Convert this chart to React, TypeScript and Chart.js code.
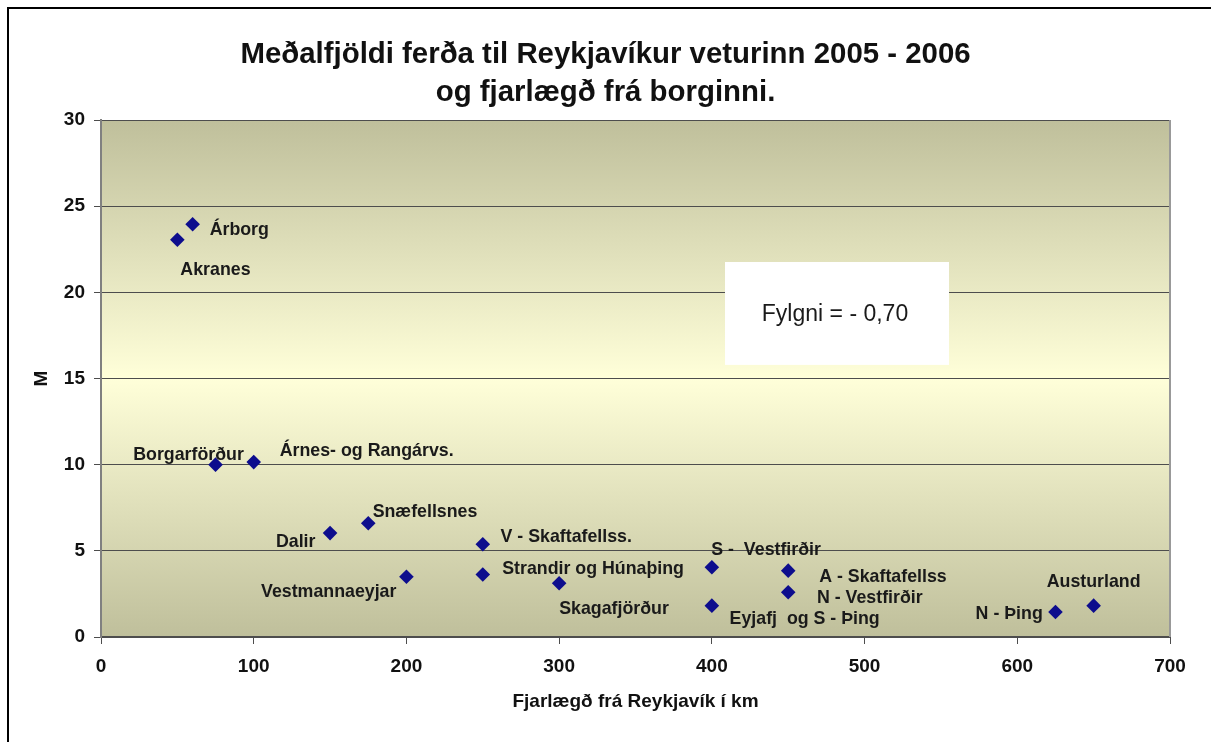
import React, { useEffect, useRef } from "react";
import { Chart, registerables } from "chart.js";

Chart.register(...registerables);

const FONT = "'Liberation Sans', Arial, Helvetica, sans-serif";

// ---- data ----
const titleLines = [
  "Meðalfjöldi ferða til Reykjavíkur veturinn 2005 - 2006",
  "og fjarlægð frá borginni.",
];
const xAxisTitle = "Fjarlægð frá Reykjavík í km";
const yAxisTitle = "M";
const noteText = "Fylgni = - 0,70";

const regions = [
  "Akranes",
  "Árborg",
  "Borgarförður",
  "Árnes- og Rangárvs.",
  "Dalir",
  "Snæfellsnes",
  "Vestmannaeyjar",
  "V - Skaftafellss.",
  "Strandir og Húnaþing",
  "Skagafjörður",
  "S -  Vestfirðir",
  "Eyjafj  og S - Þing",
  "A - Skaftafellss",
  "N - Vestfirðir",
  "N - Þing",
  "Austurland",
];
const distanceKm = [50, 60, 75, 100, 150, 175, 200, 250, 250, 300, 400, 400, 450, 450, 625, 650];
const meanTrips = [23.05, 23.95, 10.0, 10.15, 6.03, 6.6, 3.5, 5.38, 3.63, 3.12, 4.05, 1.82, 3.85, 2.6, 1.45, 1.82];

const xTickValues = [0, 100, 200, 300, 400, 500, 600, 700];
const yTickValues = [0, 5, 10, 15, 20, 25, 30];

// ---- label placement (style, pixel offsets from each marker) ----
const labelAlign: CanvasTextAlign[] = [
  "left", "left", "center", "left", "right", "left", "right", "left",
  "left", "left", "left", "left", "left", "left", "right", "center",
];
const labelDx = [3, 17, -27, 26, -14.6, 4.4, -10, 17.7, 19.4, 0, -0.6, 17.7, 31, 28.7, -12.7, 0];
const labelDy = [30, 6, -10, -11, 8.7, -10.7, 15.7, -7.6, -5.3, 25.4, -17.3, 13.3, 6.3, 6, 2, -24];

// note box extent in data units (x from/to, y from/to)
const noteBoxX = [408.6, 555.3];
const noteBoxY = [21.76, 15.79];

const bgPlugin = {
  id: "plotBg",
  beforeDraw(chart: any) {
    const { ctx, chartArea: a } = chart;
    const g = ctx.createLinearGradient(0, a.top, 0, a.bottom);
    g.addColorStop(0, "#bfbf9b");
    g.addColorStop(0.5, "#ffffd9");
    g.addColorStop(1, "#bfbf9b");
    ctx.save();
    ctx.fillStyle = "#ffffff";
    ctx.fillRect(0, 0, chart.width, chart.height);
    ctx.fillStyle = g;
    ctx.fillRect(a.left, a.top, a.right - a.left, a.bottom - a.top);
    ctx.restore();
  },
};

const notePlugin = {
  id: "noteBox",
  beforeDatasetsDraw(chart: any) {
    const { ctx, chartArea: a, scales } = chart;
    const x1 = scales.x.getPixelForValue(noteBoxX[0]);
    const x2 = scales.x.getPixelForValue(noteBoxX[1]);
    const y1 = scales.y.getPixelForValue(noteBoxY[0]);
    const y2 = scales.y.getPixelForValue(noteBoxY[1]);
    ctx.save();
    // right border of plot area
    ctx.strokeStyle = "#999999";
    ctx.lineWidth = 2;
    ctx.beginPath();
    ctx.moveTo(a.right, a.top);
    ctx.lineTo(a.right, a.bottom);
    ctx.stroke();
    ctx.fillStyle = "#ffffff";
    ctx.fillRect(x1, y1, x2 - x1, y2 - y1);
    ctx.fillStyle = "#1a1a1a";
    ctx.font = `normal 23px ${FONT}`;
    ctx.textAlign = "center";
    ctx.textBaseline = "middle";
    ctx.fillText(noteText, (x1 + x2) / 2 - 2, (y1 + y2) / 2 + 1);
    ctx.restore();
  },
};

const labelPlugin = {
  id: "pointLabels",
  afterDatasetsDraw(chart: any) {
    const { ctx } = chart;
    const meta = chart.getDatasetMeta(0);
    ctx.save();
    ctx.fillStyle = "#1a1a1a";
    ctx.font = `bold 17.8px ${FONT}`;
    ctx.textBaseline = "middle";
    meta.data.forEach((pt: any, i: number) => {
      ctx.textAlign = labelAlign[i];
      ctx.fillText(regions[i], pt.x + labelDx[i], pt.y + labelDy[i]);
    });
    ctx.restore();
  },
};

export default function App() {
  const ref = useRef<HTMLCanvasElement | null>(null);

  useEffect(() => {
    if (!ref.current) return;
    const chart = new Chart(ref.current, {
      type: "scatter",
      data: {
        datasets: [
          {
            data: distanceKm.map((x, i) => ({ x, y: meanTrips[i] })),
            pointStyle: "rectRot",
            pointRadius: 7.3,
            pointHoverRadius: 7.3,
            backgroundColor: "#0d0d8d",
            borderColor: "#0d0d8d",
            borderWidth: 0,
          },
        ],
      },
      options: {
        responsive: false,
        animation: false,
        devicePixelRatio: 1,
        layout: { padding: { left: 41, right: 41, top: 10, bottom: 0 } },
        plugins: {
          legend: { display: false },
          tooltip: { enabled: false },
          title: {
            display: true,
            text: titleLines,
            color: "#111111",
            font: { family: FONT, size: 29.4, weight: "bold", lineHeight: 38 / 29.4 },
            padding: { top: 26, bottom: 8 },
          },
        },
        scales: {
          x: {
            type: "linear",
            min: 0,
            max: 700,
            afterBuildTicks: (axis: any) => {
              axis.ticks = xTickValues.map((v) => ({ value: v }));
            },
            afterFit: (axis: any) => {
              axis.height = 105;
            },
            ticks: {
              color: "#111111",
              font: { family: FONT, size: 19, weight: "bold" },
              padding: 11,
              maxRotation: 0,
            },
            grid: {
              drawOnChartArea: false,
              drawTicks: true,
              tickLength: 7,
              tickColor: "#4d4d4d",
            },
            border: { display: true, color: "#4d4d4d", width: 2 },
            title: {
              display: true,
              text: xAxisTitle,
              color: "#111111",
              font: { family: FONT, size: 19, weight: "bold" },
              padding: { top: 0, bottom: 28.6 },
            },
          },
          y: {
            type: "linear",
            min: 0,
            max: 30,
            afterBuildTicks: (axis: any) => {
              axis.ticks = yTickValues.map((v) => ({ value: v }));
            },
            afterFit: (axis: any) => {
              axis.width = 60;
            },
            ticks: {
              color: "#111111",
              font: { family: FONT, size: 19, weight: "bold" },
              padding: 9,
            },
            grid: {
              color: "#4d4d4d",
              lineWidth: 1,
              drawTicks: true,
              tickLength: 7,
              tickColor: "#4d4d4d",
            },
            border: { display: true, color: "#808080", width: 2 },
            title: {
              display: true,
              text: yAxisTitle,
              color: "#111111",
              font: { family: FONT, size: 19, weight: "bold" },
              padding: { top: -10.7, bottom: 0 },
            },
          },
        },
      },
      plugins: [bgPlugin, notePlugin, labelPlugin],
    } as any);
    return () => chart.destroy();
  }, []);

  return (
    <div
      style={{
        position: "fixed",
        left: 0,
        top: 0,
        width: 1211,
        height: 742,
        background: "#ffffff",
        overflow: "hidden",
      }}
    >
      <canvas
        ref={ref}
        width={1211}
        height={742}
        style={{ position: "absolute", left: 0, top: 0, width: 1211, height: 742 }}
      />
      <div
        style={{
          position: "absolute",
          left: 7,
          top: 7,
          width: 1400,
          height: 1000,
          borderLeft: "2px solid #000",
          borderTop: "2px solid #000",
          pointerEvents: "none",
        }}
      />
    </div>
  );
}
